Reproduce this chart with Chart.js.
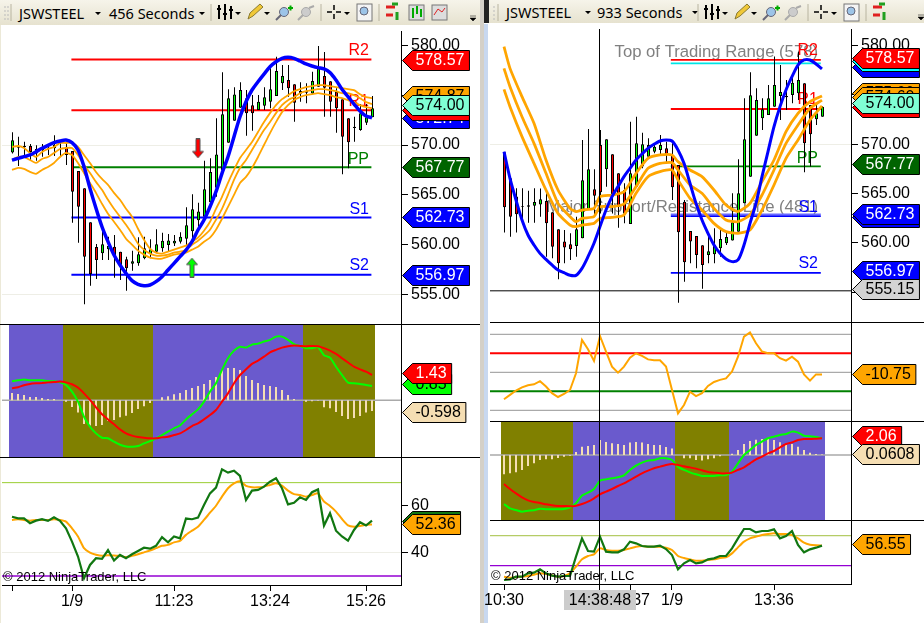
<!DOCTYPE html>
<html>
<head>
<meta charset="utf-8">
<style>
  html, body { margin: 0; background: #fff; }
  #stage { position: relative; width: 924px; height: 623px; overflow: hidden; background: #fff; font-family: "Liberation Sans", Arial, sans-serif; }
  #stage canvas { position: absolute; }
  .bar { position: absolute; top: 0; background: linear-gradient(#f6f4ea, #e6e2cf); font: 14.5px "Noto Sans", sans-serif; color: #000; white-space: nowrap; }
  .bar span { position: absolute; top: 50%; transform: translateY(-50%); }
  .bar svg { position: absolute; left: 0; top: 0; }
  .rule { position: absolute; background: #000; height: 1px; z-index: 3; }
  .copy { position: absolute; font-size: 13px; line-height: 14px; color: #000; z-index: 4; }
  .cross { position: absolute; left: 564px; top: 590px; width: 72px; height: 20px; line-height: 20px; background: #ccc; font-size: 16px; text-align: center; z-index: 4; }
</style>
</head>
<body>
<div id="stage">
  <div style="position:absolute;left:0;top:0;width:1px;height:623px;background:#ece9d8"></div>
  <div style="position:absolute;left:480px;top:0;width:4px;height:623px;background:#d4d0c8"></div>
  <div style="position:absolute;left:484px;top:24px;width:4px;height:599px;background:#c8d8f0"></div>
  <div style="position:absolute;left:484px;top:0;width:5px;height:23px;background:#222"></div>
  <div class="bar" id="barL" style="left:0;width:480px;height:25px">
    <span style="left:19px">JSWSTEEL</span><span style="left:109px">456 Seconds</span>
  </div>
  <div class="bar" id="barR" style="left:489px;width:435px;height:23px">
    <span style="left:17px">JSWSTEEL</span><span style="left:108px">933 Seconds</span>
  </div>
  <div class="rule" style="left:0;top:324px;width:480px"></div>
  <div class="rule" style="left:0;top:457px;width:480px"></div>
  <div class="rule" style="left:490px;top:322px;width:434px"></div>
  <div class="rule" style="left:490px;top:421px;width:434px"></div>
  <div class="rule" style="left:490px;top:520px;width:434px"></div>
  <div class="copy" style="left:3px;top:570px">© 2012 NinjaTrader, LLC</div>
  <div class="copy" style="left:491px;top:569px">© 2012 NinjaTrader, LLC</div>
  <div class="cross">14:38:48</div>
</div>

<script src="https://cdn.jsdelivr.net/npm/chart.js@4"></script>
<script>
// left chart, 456 seconds
const leftOpen = [569.26,569.73,569.77,569.9,569.6,569.5,569.6,569.67,569.67,569.83,569.4,567.39,565.65,562.24,559.77,559.13,559.53,559.8,559.3,558.53,558.09,558.13,558.63,559.06,559.3,559.63,559.97,560.13,560.3,560.6,561.34,562.44,562.81,564.25,565.72,567.49,570.23,572.44,573.75,574.68,573.98,573.51,573.95,574.35,574.92,576.19,576.52,576.09,575.15,575.25,575.18,575.85,576.92,576.39,575.35,574.58,572.68,571.71,571.5,572.24,572.78];
const leftClose = [570.47,569.93,569.9,569.3,569.16,569.8,569.67,570.0,569.7,569.0,565.32,563.81,558.8,557.06,558.46,560.03,559.87,558.96,557.79,557.63,558.33,559.03,559.63,559.53,560.03,560.4,560.43,560.4,560.8,561.94,563.55,563.34,565.55,567.29,569.06,573.08,574.68,575.08,575.52,573.18,573.18,574.35,574.78,575.59,577.42,576.92,575.69,574.25,575.42,575.42,576.42,577.69,575.75,574.35,573.68,570.84,570.27,571.84,573.18,572.78,573.68];
const leftHigh = [571.27,570.84,570.33,570.1,569.97,570.1,569.83,570.97,570.33,570.17,569.4,567.39,565.65,562.24,560.07,561.47,560.8,560.97,559.3,558.8,559.4,560.74,560.8,560.54,561.54,561.2,561.07,560.97,561.24,563.75,565.05,564.21,568.43,568.66,572.68,577.29,575.59,575.79,576.29,575.52,575.02,575.02,575.79,577.69,578.86,578.03,578.03,576.09,576.29,576.19,577.36,579.93,579.33,576.39,575.69,574.58,572.68,572.84,574.11,574.11,574.92];
const leftLow = [569.16,567.89,569.0,568.5,568.43,568.83,569.0,568.9,568.9,568.0,562.2,560.2,554.01,555.89,556.56,558.46,558.46,556.69,556.45,555.38,557.39,557.89,558.53,558.63,559.13,559.3,559.3,559.87,560.13,559.97,560.64,561.8,562.81,564.25,564.82,567.49,570.23,572.44,573.75,570.94,571.44,573.51,573.51,573.68,574.92,575.52,574.85,572.34,574.35,574.18,575.02,575.85,572.84,572.84,571.24,567.06,567.66,570.33,571.44,572.0,572.78];
const leftBlue = [568.49,568.66,568.83,569.0,569.33,569.67,569.97,570.23,570.4,570.5,570.23,569.5,567.83,565.65,563.65,561.8,560.3,558.96,557.96,557.12,556.39,556.02,555.89,555.95,556.29,556.79,557.46,558.13,558.8,559.46,560.3,561.47,562.47,563.81,565.32,567.16,568.83,570.84,572.84,574.35,575.52,576.35,577.12,577.86,578.36,578.7,578.8,578.7,578.43,578.13,577.93,577.76,577.63,577.26,576.52,575.59,574.85,574.11,573.41,572.91,572.74];
const leftBandTop = [569.8,569.9,569.7,569.2,568.8,569.3,569.6,569.8,570.2,570.2,570.2,569.8,569.0,568.2,567.3,566.6,566.0,565.2,564.5,563.6,562.8,561.6,560.5,559.6,559.2,559.1,559.3,559.5,559.7,559.9,560.3,560.7,561.4,562.3,563.6,564.8,566.2,567.5,568.7,569.5,570.3,571.3,572.3,573.2,574.0,574.6,575.0,575.4,575.6,575.8,575.9,576.0,576.0,575.9,575.8,575.7,575.6,575.5,575.1,574.8,574.7];
const leftBandMid = [568.5,568.8,568.8,568.5,568.2,568.6,568.8,569.2,569.6,569.7,569.7,569.0,568.0,567.2,566.3,565.5,564.5,563.6,562.8,562.0,561.1,560.1,559.5,559.1,558.9,558.9,559.0,559.2,559.3,559.5,560.0,560.4,560.9,561.5,562.5,563.6,565.0,566.5,567.7,568.5,569.5,570.5,571.5,572.3,573.2,574.0,574.5,574.8,575.2,575.4,575.5,575.6,575.6,575.5,575.4,575.2,575.2,575.0,574.7,574.3,574.1];
const leftBandLow = [567.5,567.7,567.6,567.3,567.1,567.5,567.8,568.2,568.8,569.2,569.0,568.2,567.2,566.2,565.2,564.1,563.1,562.3,561.5,560.6,560.0,559.4,559.0,558.7,558.6,558.6,558.8,559.0,559.1,559.2,559.5,559.8,560.3,560.7,561.5,562.6,563.8,565.0,566.2,566.8,567.7,568.8,570.0,571.2,572.3,573.3,574.0,574.5,574.8,575.0,575.1,575.2,575.1,575.0,574.8,574.7,574.5,574.3,574.0,573.8,573.7];
const leftLevelNames = ['R2', 'R1', 'PP', 'S1', 'S2'];
const leftLevels = [578.57, 573.5, 567.77, 562.73, 556.97];
const leftArrowDownBar = [31];
const leftArrowDownAt = [569.66];
const leftArrowUpBar = [30];
const leftArrowUpAt = [557.7];
const leftPriceTicks = [580, 575, 570, 565, 560, 555];
const leftPriceFlags = ['572.74', '573.50', '574.87', '574.00', '578.57', '567.77', '562.73', '556.97'];

const leftHist = [.39,.34,.28,.18,.18,.12,.07,.07,.01,-.07,-.35,-.65,-1.25,-1.33,-1.36,-1.31,-1.10,-1.04,-.90,-.81,-.67,-.46,-.32,-.14,.01,.16,.21,.32,.39,.55,.65,.76,.87,1.08,1.24,1.61,1.71,1.71,1.61,1.29,1.08,.92,.81,.76,.71,.55,.28,.07,.01,-.07,-.05,-.02,-.37,-.42,-.62,-.83,-.99,-.94,-.83,-.65,-.57];
const leftMacd = [1.01,1.06,1.10,1.06,1.06,1.06,1.02,1.01,.95,.81,.46,-.07,-.87,-1.40,-1.75,-1.98,-2.01,-2.19,-2.35,-2.44,-2.46,-2.42,-2.28,-2.16,-2.01,-1.84,-1.66,-1.48,-1.33,-1.01,-.74,-.48,-.07,.46,.90,1.61,2.23,2.63,2.84,2.79,2.95,3.00,3.11,3.20,3.37,3.37,3.20,2.97,2.88,2.76,2.76,2.81,2.39,2.26,1.78,1.34,.94,.90,.87,.81,.76];
const leftSignal = [.64,.69,.80,.87,.90,.92,.95,.97,.99,.95,.85,.67,.37,.02,-.37,-.74,-1.01,-1.27,-1.54,-1.75,-1.87,-1.94,-1.98,-2.01,-2.01,-1.96,-1.93,-1.84,-1.75,-1.57,-1.36,-1.22,-1.01,-.78,-.51,-.07,.37,.90,1.34,1.64,1.93,2.10,2.31,2.54,2.67,2.79,2.86,2.90,2.88,2.86,2.88,2.86,2.76,2.63,2.46,2.23,2.00,1.78,1.64,1.52,1.34];
const leftRegimeRuns = [9, 15, 25, 12];
const leftMacdFlags = ['0.85', '1.43', '-0.598'];

const leftRsi = [55.4,54.7,54.7,52.6,53.7,54.3,53.6,55.1,53.6,50.4,44.7,38.3,29.0,34.7,37.6,37.3,41.1,36.6,39.0,37.6,39.3,40.7,42.1,41.7,42.9,46.6,44.4,46.9,46.1,54.6,54.3,55.0,60.4,65.4,67.9,75.7,74.3,75.1,72.9,62.6,66.6,66.9,68.3,70.4,71.9,67.6,60.7,61.4,63.7,62.6,65.9,67.1,51.6,56.9,49.4,46.9,45.1,49.7,53.0,51.6,53.7];
const leftRsiAvg = [54.0,54.3,54.0,53.7,54.0,54.0,54.0,54.3,54.0,53.3,50.4,46.9,41.9,40.0,39.1,38.6,38.9,38.7,38.6,38.1,38.6,39.3,40.1,40.9,41.9,42.9,43.3,44.4,45.0,47.6,49.4,51.1,54.0,57.1,60.1,64.0,67.6,69.7,70.6,68.6,68.0,68.0,68.3,69.0,69.7,68.7,66.6,65.1,64.7,64.0,64.7,65.4,61.9,60.0,57.6,54.4,51.7,51.1,51.4,51.9,52.1];
const leftRsiTicks = [60, 40];
const leftRsiFlags = ['53.70', '52.36'];
const leftTimeBars = [0, 10, 27, 43, 59];
const leftTimeLabels = ['', '1/9', '11:23', '13:24', '15:26'];

// right chart, 933 seconds
const rightOpen = [569.19,566.55,564.7,563.75,563.82,563.78,563.89,564.26,563.11,561.39,560.14,559.86,559.7,560.47,563.34,565.44,569.93,567.47,568.99,567.06,565.37,561.93,565.71,567.74,568.75,569.26,569.43,569.59,568.92,567.91,564.19,561.22,560.71,559.76,558.78,558.85,559.46,559.97,560.24,561.15,564.02,566.72,570.88,572.64,572.97,573.82,574.9,574.76,575.0,575.17,576.18,573.99,572.53,572.8];
const rightClose = [563.61,562.67,562.91,563.68,563.68,564.16,564.43,561.99,559.63,557.94,559.53,559.36,561.39,566.35,567.47,564.8,565.14,570.51,564.7,563.68,563.0,567.06,570.1,570.0,569.93,569.76,569.93,568.92,565.64,561.08,558.04,560.14,558.78,557.77,559.16,559.8,560.41,560.61,562.09,565.03,570.51,574.97,574.49,573.55,574.66,576.01,575.3,574.9,576.25,576.52,570.1,571.01,573.14,573.82];
const rightHigh = [569.19,566.55,565.54,565.54,565.3,565.54,565.51,565.03,563.11,561.39,561.32,560.98,562.67,570.44,571.55,567.47,571.45,570.51,568.99,567.06,566.05,572.3,572.8,571.18,570.61,570.1,570.95,570.27,570.1,567.91,564.36,561.22,560.71,559.76,560.81,561.49,561.49,561.15,565.03,568.48,574.66,577.3,575.68,574.66,576.01,578.89,578.04,576.52,577.03,579.39,576.18,573.99,573.99,573.89];
const rightLow = [561.05,560.64,561.05,561.89,562.06,562.06,562.67,558.61,558.45,556.32,557.94,558.28,558.61,560.47,563.34,562.67,563.0,565.71,563.0,561.55,561.99,561.93,565.71,567.57,568.58,569.09,568.92,568.07,564.36,553.95,556.08,557.94,557.43,555.37,557.94,557.94,558.61,559.8,560.24,561.15,564.02,566.72,570.88,571.45,572.97,573.82,572.47,573.48,574.16,574.49,567.16,567.74,571.96,572.8];
const rightBlue = [569.26,566.55,564.36,562.33,560.81,559.8,558.95,558.34,557.77,557.26,556.99,556.72,556.72,557.43,558.61,559.97,561.66,563.34,564.7,565.71,566.72,567.57,568.41,569.02,569.59,570.0,570.34,570.44,570.34,569.43,568.07,566.05,564.02,562.33,560.98,559.8,558.95,558.38,558.11,558.28,559.8,561.99,564.02,566.72,569.26,571.79,573.82,575.51,576.86,578.04,578.55,578.55,578.14,577.64];
const rightBandBars = [0,1,3,5,7,9,11,12,13,15,16,18,20,22,24,26,28,29,31,33,35,37,39,41,43,45,47,49,51,53];
const rightBandTop = [579.9,577.7,574.83,572.13,568.41,565.37,563.51,563.18,563.34,563.51,564.7,564.86,565.2,567.06,568.58,568.92,568.92,568.24,567.4,566.72,565.37,563.85,563.18,564.02,566.22,568.41,571.28,573.14,574.32,574.9];
const rightBandMid = [577.7,575.84,572.8,570.1,567.06,564.02,562.67,562.16,562.5,562.67,563.68,563.68,563.95,565.71,567.57,568.07,568.14,567.4,565.88,565.03,563.51,562.33,562.16,562.84,564.86,567.4,570.1,571.96,573.65,574.49];
const rightBandLow = [575.57,573.82,570.78,568.07,565.37,563.0,561.82,561.66,561.82,561.99,562.5,562.6,562.84,565.03,566.72,567.23,567.4,566.39,564.53,563.34,561.99,561.15,560.98,561.32,563.34,565.88,568.58,570.44,572.47,573.89];
const rightLevelNames = ['R2', 'R1', 'PP', 'S1', 'S2'];
const rightLevels = [578.57, 573.58, 567.77, 562.73, 556.97];
const rightCaptions = ['Top of Trading Range (578)', 'Major Support/Resistance Line (481)'];
const rightCaptionLevels = [578.2, 562.9];
const rightCrossPrice = 555.15;
const rightCrossBar = 16;
const rightPriceTicks = [580, 575, 570, 565, 560, 555];
const rightPriceFlags = ['577.64', '578.20', '578.57', '573.58', '575.00', '574.60', '574.00', '567.77', '562.40', '562.73', '556.97', '555.15'];

const rightCci = [-142,-119,-96,-79,-68,-63,-47,-75,-110,-130,-114,-93,-5,170,121,60,191,109,30,-2,30,77,100,86,68,63,63,30,-93,-216,-172,-102,-125,-110,-72,-51,-40,-32,4,82,188,210,153,109,100,100,74,61,82,56,-11,-44,-11,-11];
const rightCciLines = [200, 0, -200];
const rightCciBounds = [100, -100];
const rightCciFlags = ['-10.75'];

const rightHist = [-2.09,-1.99,-1.88,-1.62,-1.19,-.9,-.54,-.47,-.47,-.32,-.18,-.07,.32,.9,.97,1.08,1.62,1.41,1.26,1.19,1.08,1.34,1.41,1.34,1.19,1.08,1.08,.87,.69,0,-.36,-.36,-.54,-.61,-.47,-.36,-.14,.01,.14,.54,1.19,1.52,1.66,1.73,1.73,1.62,1.37,1.08,1.19,.9,.54,.25,.11,.06];
const rightMacd = [-5.31,-5.78,-5.96,-6.14,-6.03,-5.99,-5.81,-5.88,-5.88,-5.88,-5.85,-5.67,-5.23,-4.40,-4.08,-3.68,-2.78,-2.64,-2.53,-2.42,-2.20,-1.62,-1.16,-.83,-.61,-.54,-.36,-.36,-.54,-1.26,-1.62,-1.88,-2.09,-2.27,-2.27,-2.27,-2.20,-2.17,-1.81,-.90,0,.54,1.08,1.44,1.81,1.99,2.17,2.27,2.53,2.42,2.09,2.02,1.95,1.81];
const rightSignal = [-3.14,-3.68,-4.15,-4.58,-4.91,-5.09,-5.20,-5.34,-5.45,-5.52,-5.52,-5.56,-5.49,-5.31,-5.05,-4.69,-4.26,-3.97,-3.68,-3.36,-3.07,-2.71,-2.35,-1.99,-1.70,-1.44,-1.26,-1.08,-.97,-1.08,-1.23,-1.34,-1.48,-1.66,-1.84,-1.91,-1.99,-1.99,-1.91,-1.62,-1.34,-.90,-.47,-.18,.18,.43,.83,1.19,1.37,1.62,1.73,1.73,1.77,1.81];
const rightRegimeRuns = [0, 12, 17, 9, 16];
const rightMacdFlags = ['2.06', '0.0608'];

const rightRsi = [10.9,11.8,15.3,15.3,19.8,20.7,25.1,19.8,16.7,15.3,16.2,16.2,42.0,66.4,49.6,48.7,68.7,48.7,47.8,47.8,51.8,62.0,59.8,56.2,55.3,55.3,56.7,52.2,44.2,25.1,33.1,37.6,33.1,34.4,38.4,39.8,42.9,42.9,53.1,66.4,78.9,78.9,74.4,76.2,76.2,78.4,66.4,69.6,76.2,57.6,47.8,51.8,54.0,56.7];
const rightRsiAvg = [15.3,14.0,14.4,15.3,16.2,18.0,19.8,18.9,17.1,15.3,16.2,19.8,28.7,38.4,42.9,45.1,53.1,50.9,50.0,50.0,50.9,53.1,55.3,56.2,55.3,55.3,55.3,54.0,50.9,42.9,40.2,38.4,36.7,36.7,37.6,38.4,40.2,41.1,46.4,54.4,62.0,66.4,68.7,70.9,72.2,73.1,72.2,72.2,70.9,66.4,60.7,58.0,57.1,56.7];
const rightRsiFlags = ['56.55'];
const rightTimeBars = [0, 16, 21, 28, 45];
const rightTimeLabels = ['10:30', '', '14:37', '1/9', '13:36'];

const rsiUpper = 70;
const rsiLower = 30;

Chart.defaults.font.family = '"Liberation Sans", Arial, sans-serif';
Chart.defaults.font.size = 16;
Chart.defaults.color = '#000';

const RED = '#ff0000', BLUE = '#0000ff', ORANGE = '#ffa500', LIME = '#00ff00', DKGREEN = '#117711';
const WHEAT = '#f5deb3', SLATE = '#6a5acd', OLIVE = '#808000', GRAY = '#aaaaaa', LIGHT = '#eeeee6';
const NUDGE = 1 / 12; // half a pixel, keeps 1px wicks crisp

const flagStyle = {
  red: [RED, '#fff'], blue: [BLUE, '#fff'], green: ['#006400', '#fff'], dark: [DKGREEN, '#fff'],
  orange: [ORANGE, '#000'], aqua: ['#7fffd4', '#000'], lime: [LIME, '#000'],
  wheat: [WHEAT, '#000'], gray: ['#d3d3d3', '#000'], cyan: ['#00ffff', '#000'],
};

function line(ys, color, width, tension = 0.2, xs = null) {
  return {
    type: 'line', data: ys.map((y, i) => ({ x: xs ? xs[i] : i, y })),
    borderColor: color, borderWidth: width, pointRadius: 0, tension, fill: false,
  };
}

function level(value, color, width, from, to) {
  return line([value, value], color, width, 0, [from, to]);
}

function candles(o, h, l, c) {
  const wicks = {
    type: 'bar', grouped: false, barThickness: 1, inflateAmount: 0, backgroundColor: '#000',
    data: h.map((v, i) => ({ x: i + NUDGE, y: [l[i], v] })),
  };
  const bodies = {
    type: 'bar', grouped: false, barThickness: 3, inflateAmount: 0, borderWidth: 1, borderColor: '#000',
    borderSkipped: false,
    backgroundColor: o.map((v, i) => (c[i] >= v ? LIME : RED)),
    data: o.map((v, i) => ({ x: i + NUDGE, y: [v, c[i]] })),
  };
  return [wicks, bodies];
}

function histogram(values) {
  return {
    type: 'bar', grouped: false, barThickness: 2, inflateAmount: 0, backgroundColor: WHEAT,
    data: values.map((y, i) => ({ x: i, y })),
  };
}

// runs alternate blue, olive, blue, ... one background bar per candle
function regimeBands(runs, yMin, yMax) {
  const colors = [];
  runs.forEach((n, r) => {
    for (let k = 0; k < n; k++) colors.push(r % 2 ? OLIVE : SLATE);
  });
  return {
    type: 'bar', grouped: false, barThickness: 6, inflateAmount: 0, backgroundColor: colors,
    data: colors.map((_, i) => ({ x: i, y: [yMin, yMax] })),
  };
}

function arrowImage(color, up) {
  const cv = document.createElement('canvas');
  cv.width = 12;
  cv.height = 20;
  const g = cv.getContext('2d');
  if (!up) { g.translate(0, 20); g.scale(1, -1); }
  g.beginPath();
  g.moveTo(6, 0.5); g.lineTo(11.5, 7); g.lineTo(8, 7); g.lineTo(8, 19.5);
  g.lineTo(4, 19.5); g.lineTo(4, 7); g.lineTo(0.5, 7); g.closePath();
  g.fillStyle = color;
  g.fill();
  g.strokeStyle = '#555';
  g.stroke();
  return cv;
}

function arrow(bars, values, color, up) {
  return {
    type: 'line', showLine: false, pointStyle: arrowImage(color, up), pointRadius: 10,
    data: values.map((y, i) => ({ x: bars[i], y })),
  };
}

function drawFlag(ctx, tipX, y, text, style) {
  const [bg, fg] = flagStyle[style];
  ctx.font = '16px "Liberation Sans", Arial, sans-serif';
  const w = ctx.measureText(text).width + 8;
  const x = tipX + 10;
  ctx.beginPath();
  ctx.moveTo(tipX, y);
  ctx.lineTo(x, y - 10);
  ctx.lineTo(x + w, y - 10);
  ctx.lineTo(x + w, y + 10);
  ctx.lineTo(x, y + 10);
  ctx.closePath();
  ctx.fillStyle = bg;
  ctx.fill();
  ctx.strokeStyle = '#000';
  ctx.lineWidth = 1;
  ctx.stroke();
  ctx.fillStyle = fg;
  ctx.textAlign = 'left';
  ctx.textBaseline = 'middle';
  ctx.fillText(text, x + 3, y + 0.5);
}

function pane(cfg) {
  const stage = document.getElementById('stage');
  const canvas = document.createElement('canvas');
  canvas.width = cfg.width;
  canvas.height = cfg.height;
  canvas.style.left = cfg.left + 'px';
  canvas.style.top = cfg.top + 'px';
  stage.appendChild(canvas);

  const xMin = (cfg.plotLeft - cfg.base) / 6;
  const xMax = (cfg.plotRight - cfg.base) / 6;
  const datasets = cfg.datasets(xMin, xMax);
  datasets.forEach((d, i) => { d.order = -i; });

  const overlay = {
    id: 'overlay',
    beforeDatasetsDraw(chart) {
      const { ctx, scales } = chart;
      ctx.save();
      ctx.textAlign = 'right';
      ctx.textBaseline = 'bottom';
      (cfg.labels || []).forEach((t) => {
        ctx.font = (t.size || 16) + 'px "Liberation Sans", Arial, sans-serif';
        ctx.fillStyle = t.color;
        ctx.fillText(t.text, cfg.labelRight, scales.y.getPixelForValue(t.value) - t.gap);
      });
      ctx.restore();
    },
    afterDraw(chart) {
      const { ctx, scales, chartArea } = chart;
      ctx.save();
      if (cfg.crossBar !== undefined) {
        const x = Math.round(scales.x.getPixelForValue(cfg.crossBar + NUDGE)) - 0.5;
        ctx.strokeStyle = '#000';
        ctx.lineWidth = 1;
        ctx.beginPath();
        ctx.moveTo(x, chartArea.top);
        ctx.lineTo(x, chartArea.bottom);
        ctx.stroke();
      }
      const tip = cfg.plotRight - cfg.left + 1.5;
      (cfg.flags || []).forEach((f, i) => {
        const y = Math.round(scales.y.getPixelForValue(Number(f))) + (cfg.flagShift || 0) + 0.5;
        drawFlag(ctx, tip, y, f, cfg.flagStyles[i]);
      });
      ctx.restore();
    },
  };

  const yTicks = cfg.yTicks || [];
  const light = cfg.lightTicks || [];
  const xAxisHeight = cfg.xHeight || 0;
  const noPadding = (s) => { s.paddingLeft = s.paddingRight = s.paddingTop = s.paddingBottom = 0; };

  new Chart(canvas, {
    type: 'bar',
    data: { datasets },
    plugins: [overlay],
    options: {
      responsive: false,
      animation: false,
      layout: { autoPadding: false, padding: { left: cfg.plotLeft - cfg.left, top: 0, right: 0, bottom: 0 } },
      plugins: { legend: { display: false }, tooltip: { enabled: false } },
      scales: {
        x: {
          type: 'linear', min: xMin, max: xMax, offset: false,
          display: !!cfg.xTicks,
          afterBuildTicks: (s) => { s.ticks = (cfg.xTicks || []).map((value) => ({ value })); },
          afterFit: (s) => { s.height = xAxisHeight; noPadding(s); },
          grid: { offset: false, drawOnChartArea: false, tickColor: '#000', tickLength: 6 },
          border: { display: true, color: '#000' },
          ticks: {
            autoSkip: false, maxRotation: 0, padding: 1, color: '#000',
            callback: (v) => cfg.xLabels[cfg.xTicks.indexOf(v)],
          },
        },
        y: {
          type: 'linear', position: 'right', min: cfg.yMin, max: cfg.yMax,
          afterBuildTicks: (s) => { s.ticks = yTicks.map((value) => ({ value })); },
          afterFit: (s) => { s.width = cfg.left + cfg.width - cfg.plotRight; noPadding(s); },
          grid: {
            color: (c) => (light.includes(c.tick && c.tick.value) ? LIGHT : 'transparent'),
            tickColor: '#000', tickLength: 7,
          },
          border: { display: true, color: '#000' },
          ticks: {
            display: yTicks.length > 0, padding: 3, color: '#000', autoSkip: false,
            callback: (v) => (cfg.yDigits ? v.toFixed(cfg.yDigits) : String(v)),
          },
        },
      },
    },
  });
}

const L = { left: 0, width: 480, plotLeft: 2, plotRight: 401, base: 12 };
const R = { left: 484, width: 440, plotLeft: 490, plotRight: 851, base: 504 };

const levelColors = [RED, RED, '#008000', BLUE, BLUE];
const levelGaps = [1, 1, 0, 0, 1];

// left price
pane({
  ...L, top: 31, height: 293, yMin: 552.04, yMax: 581.44,
  yTicks: leftPriceTicks, lightTicks: [570, 555], yDigits: 2,
  labelRight: 369,
  labels: leftLevelNames.map((text, i) => ({ text, value: leftLevels[i], color: levelColors[i], gap: levelGaps[i] })),
  flags: leftPriceFlags,
  flagStyles: ['blue', 'red', 'orange', 'aqua', 'red', 'green', 'blue', 'blue'],
  datasets: () => [
    ...leftLevels.map((v, i) => level(v, levelColors[i], 2, 9.9, 59.9)),
    ...candles(leftOpen, leftHigh, leftLow, leftClose),
    line(leftBandLow, ORANGE, 1.8),
    line(leftBandMid, ORANGE, 1.8),
    line(leftBandTop, ORANGE, 1.8),
    line(leftBlue, BLUE, 3.5, 0.3),
    arrow(leftArrowDownBar, leftArrowDownAt, RED, false),
    arrow(leftArrowUpBar, leftArrowUpAt, LIME, true),
  ],
});

// left macd
pane({
  ...L, top: 324, height: 133, yMin: -3.0, yMax: 4.04,
  flags: leftMacdFlags, flagStyles: ['lime', 'red', 'wheat'],
  datasets: (x0, x1) => [
    regimeBands(leftRegimeRuns, -3.0, 4.04),
    level(0, GRAY, 1.5, x0, x1),
    histogram(leftHist),
    line(leftMacd, LIME, 2),
    line(leftSignal, RED, 2),
  ],
});

// left rsi, carries the time axis
pane({
  ...L, top: 457, height: 160, xHeight: 32, yMin: 26.1, yMax: 81,
  yTicks: leftRsiTicks, lightTicks: [40],
  xTicks: leftTimeBars, xLabels: leftTimeLabels,
  flags: leftRsiFlags, flagStyles: ['dark', 'orange'],
  datasets: (x0, x1) => [
    level(rsiUpper, '#9acd32', 1, x0, x1),
    level(rsiLower, '#9400d3', 1.5, x0, x1),
    line(leftRsiAvg, ORANGE, 2),
    line(leftRsi, DKGREEN, 2.2, 0),
  ],
});

// right price
pane({
  ...R, top: 29, height: 293, yMin: 551.99, yMax: 581.69,
  yTicks: rightPriceTicks, lightTicks: [570], yDigits: 2,
  labelRight: R.plotLeft - R.left + 328,
  labels: [
    { text: rightCaptions[0], value: rightCaptionLevels[0], color: '#808080', gap: 3, size: 16.7 },
    { text: rightCaptions[1], value: rightCaptionLevels[1], color: '#808080', gap: -1, size: 16.7 },
    ...rightLevelNames.map((text, i) => ({ text, value: rightLevels[i], color: levelColors[i], gap: levelGaps[i] })),
  ],
  flags: rightPriceFlags, flagShift: -2,
  flagStyles: ['blue', 'cyan', 'red', 'red', 'orange', 'orange', 'aqua', 'green', 'blue', 'blue', 'blue', 'gray'],
  crossBar: rightCrossBar,
  datasets: (x0, x1) => [
    ...rightLevels.map((v, i) => level(v, levelColors[i], 1.8, 27.8, 52.8)),
    level(rightCaptionLevels[0], '#00e5e5', 1.8, 27.8, 52.8),
    level(rightCaptionLevels[1], '#6a6aff', 1.5, 27.8, 52.8),
    level(rightCrossPrice, '#000', 1, x0, x1),
    ...candles(rightOpen, rightHigh, rightLow, rightClose),
    line(rightBandLow, ORANGE, 2.8, 0.2, rightBandBars),
    line(rightBandMid, ORANGE, 2.8, 0.2, rightBandBars),
    line(rightBandTop, ORANGE, 2.8, 0.2, rightBandBars),
    line(rightBlue, BLUE, 3, 0.3),
  ],
});

// right cci
pane({
  ...R, top: 322, height: 99, yMin: -256.3, yMax: 264.7,
  flags: rightCciFlags, flagStyles: ['orange'], crossBar: rightCrossBar,
  datasets: (x0, x1) => [
    ...rightCciLines.map((v) => level(v, GRAY, 1.2, x0, x1)),
    level(rightCciBounds[0], RED, 2, x0, x1),
    level(rightCciBounds[1], '#008000', 2, x0, x1),
    line(rightCci, ORANGE, 2, 0),
  ],
});

// right macd
pane({
  ...R, top: 421, height: 99, yMin: -7.04, yMax: 3.68,
  flags: rightMacdFlags, flagStyles: ['red', 'wheat'], crossBar: rightCrossBar,
  datasets: (x0, x1) => [
    regimeBands(rightRegimeRuns.slice(1).reduce((a, n) => a.concat(n), [0]), -7.04, 3.68),
    level(0, GRAY, 1.5, x0, x1),
    histogram(rightHist),
    line(rightMacd, LIME, 2),
    line(rightSignal, RED, 2),
  ],
});

// right rsi, carries the time axis
pane({
  ...R, top: 520, height: 97, xHeight: 33, yMin: 5.56, yMax: 90.9,
  xTicks: rightTimeBars, xLabels: rightTimeLabels,
  flags: rightRsiFlags, flagStyles: ['orange'], flagShift: -2, crossBar: rightCrossBar,
  datasets: (x0, x1) => [
    level(rsiUpper, '#b5cc66', 1.2, x0, x1),
    level(rsiLower, '#9400d3', 1.2, x0, x1),
    line(rightRsiAvg, ORANGE, 2),
    line(rightRsi, DKGREEN, 2.2, 0),
  ],
});

// toolbar icons
function toolbarIcons(dx, full) {
  const drop = (x) => `<path d="M${x} 12h6l-3 3z" fill="#000"/>`;
  const sep = (x) => `<path d="M${x} 4v17" stroke="#b8b4a0"/>`;
  let s = sep(211 + dx) + drop(235 + dx) + drop(264 + dx) + sep(321 + dx) + drop(344 + dx) + sep(379 + dx);
  s += `<path d="M219 5v14M225 4v16M231 6v13M217 9h4M223 14h4M229 10h4" transform="translate(${dx})" stroke="#000" stroke-width="2" fill="none"/>`;
  s += `<path d="M248 19l2-6 10-9 3 3-10 9z" transform="translate(${dx})" fill="#f0c838" stroke="#8a7a30"/>`;
  s += `<g transform="translate(${dx})"><circle cx="284" cy="12" r="4.5" fill="#9cc4e8" stroke="#667"/><path d="M281 15l-5 5" stroke="#667" stroke-width="2"/><path d="M288 8h5M290.5 5.500v5" stroke="#0a0" stroke-width="2"/></g>`;
  s += `<g transform="translate(${dx})"><circle cx="306" cy="12" r="4.500" fill="#ccc" stroke="#aaa"/><path d="M303 15l-5 5M309 8l5-2" stroke="#aaa" stroke-width="2"/></g>`;
  s += `<path d="M334 5v14M327 12h14" transform="translate(${dx})" stroke="#000" stroke-width="1.500" stroke-dasharray="5 4"/>`;
  s += `<g transform="translate(${dx})"><rect x="357" y="4" width="15" height="17" fill="#f4f4f4" stroke="#777"/><circle cx="364" cy="11" r="4" fill="#9cc4e8" stroke="#667"/></g>`;
  s += `<g transform="translate(${dx})"><path d="M386 7h9M386 15h7" stroke="#e02020" stroke-width="3"/><path d="M392 4h6M397 12v8" stroke="#20a020" stroke-width="3"/></g>`;
  if (full) {
    s += '<g><rect x="409" y="5" width="15" height="15" fill="#ddd" stroke="#777"/><path d="M413 8v10M417 6v8M421 9v8" stroke="#0a0" stroke-width="2"/></g>';
    s += '<g><rect x="432" y="5" width="15" height="15" fill="#ddd" stroke="#777"/><path d="M434 15l4-6 4 3 3-4" stroke="#d22" fill="none"/></g>';
  }
  return s;
}

document.getElementById('barL').insertAdjacentHTML('beforeend',
  `<svg width="480" height="25"><path d="M5 6v14M8 6v14" stroke="#bbb" stroke-dasharray="2 2"/><path d="M11 4v17" stroke="#b8b4a0"/><path d="M95 12h6l-3 3zM199 12h6l-3 3z" fill="#000"/><path d="M470 18h6l-3 3zM470 16h6" fill="#000" stroke="#000" stroke-width="0.5"/>${toolbarIcons(0, true)}</svg>`);
document.getElementById('barR').insertAdjacentHTML('beforeend',
  `<svg width="435" height="23"><path d="M5 6v14" stroke="#bbb" stroke-dasharray="2 2"/><path d="M9 4v17" stroke="#b8b4a0"/><path d="M96 11h6l-3 3zM203 11h6l-3 3z" fill="#000"/><path d="M429 17h6l-3 3zM429 15h6" fill="#000" stroke="#000" stroke-width="0.5"/>${toolbarIcons(-2, false)}</svg>`);
</script>
</body>
</html>
